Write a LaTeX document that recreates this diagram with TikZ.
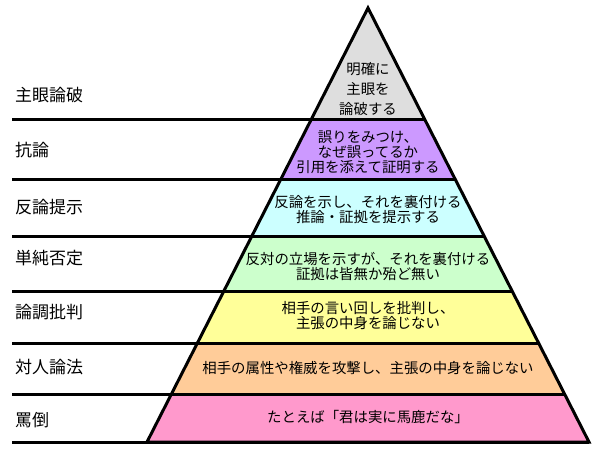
\documentclass[tikz,border=0pt]{standalone}
\usepackage{fontspec}
\newfontfamily\jp{Noto Sans CJK JP}
\definecolor{cgray}{HTML}{DEDEDE}
\definecolor{cpurple}{HTML}{CC99FF}
\definecolor{ccyan}{HTML}{CCFFFF}
\definecolor{cgreen}{HTML}{CCFFCC}
\definecolor{cyellow}{HTML}{FFFF99}
\definecolor{corange}{HTML}{FFCC99}
\definecolor{cpink}{HTML}{FF99CC}
\tikzset{
  sepline/.style={line width=3pt, black},
  lvl/.style={anchor=west, inner sep=0pt, font=\jp\fontsize{17}{17}\selectfont},
  desc/.style={align=center, inner sep=0pt, font=\jp\fontsize{14.4}{15}\selectfont},
}
\begin{document}
\begin{tikzpicture}[x=1pt,y=-1pt]
\useasboundingbox (0,0) rectangle (600,450);
\fill[white] (0,0) rectangle (600,450);
\coordinate (apex) at (368,8);
\coordinate (bl) at (147,442);
\coordinate (br) at (589,442);
\begin{scope}
\clip (apex) -- (bl) -- (br) -- cycle;
\fill[cgray]   (0,0)   rectangle (600,119);
\fill[cpurple] (0,119) rectangle (600,179);
\fill[ccyan]   (0,179) rectangle (600,236);
\fill[cgreen]  (0,236) rectangle (600,291);
\fill[cyellow] (0,291) rectangle (600,343);
\fill[corange] (0,343) rectangle (600,394);
\fill[cpink]   (0,394) rectangle (600,450);
\end{scope}
% separator lines
\draw[sepline] (12,119) -- (424.5,119);
\draw[sepline] (12,179) -- (455.1,179);
\draw[sepline] (12,236) -- (484.1,236);
\draw[sepline] (12,291) -- (512.1,291);
\draw[sepline] (12,343) -- (538.6,343);
\draw[sepline] (12,394) -- (564.6,394);
\draw[sepline] (12,442) -- (br);
\draw[sepline, line join=miter] (apex) -- (bl) -- (br) -- cycle;
% level labels
\node[lvl] (l1) at (15,95)  {主眼論破};
\node[lvl] (l2) at (15,150) {抗論};
\node[lvl] (l3) at (15,207) {反論提示};
\node[lvl] (l4) at (15,258) {単純否定};
\node[lvl] (l5) at (15,312) {論調批判};
\node[lvl] (l6) at (15,367) {対人論法};
\node[lvl] (l7) at (15,420) {罵倒};
% descriptions
\node[desc, font=\jp\fontsize{14.4}{20}\selectfont] (d1) at (368,89) {明確に\\主眼を\\論破する};
\node[desc] (d2) at (368,152) {誤りをみつけ、\\なぜ誤ってるか\\引用を添えて証明する};
\node[desc] (d3) at (368,210) {反論を示し、それを裏付ける\\推論・証拠を提示する};
\node[desc] (d4) at (368,266) {反対の立場を示すが、それを裏付ける\\証拠は皆無か殆ど無い};
\node[desc] (d5) at (368,316) {相手の言い回しを批判し、\\主張の中身を論じない};
\node[desc] (d6) at (368,368) {相手の属性や権威を攻撃し、主張の中身を論じない};
\node[desc] (d7) at (368,417) {たとえば「君は実に馬鹿だな」};
\end{tikzpicture}
\end{document}
